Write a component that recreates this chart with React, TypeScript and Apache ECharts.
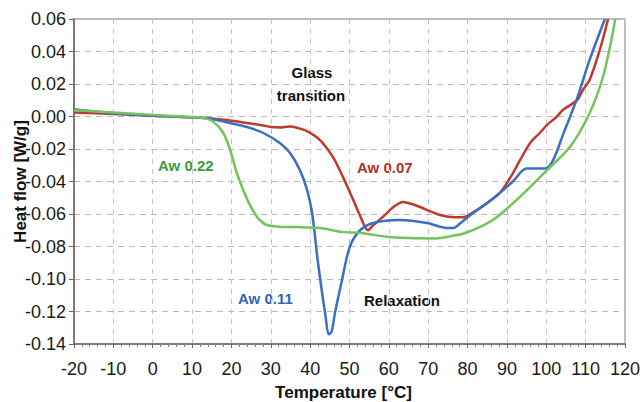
import React, { useEffect, useRef } from "react";
import * as echarts from "echarts";

// Aw 0.22 (green)
const greenT = [-20, -10, 0, 10, 13, 15.3, 17.9, 19.6, 21.4, 24, 26, 27.3, 29, 32, 36, 42.5, 48, 53, 59.5, 65, 72, 76, 79, 84, 87.5, 93.3, 100.2, 106, 111, 114.4, 116.7, 117.5];
const greenV = [0.004, 0.0025, 0.001, -0.0003, -0.001, -0.003, -0.01, -0.02, -0.035, -0.051, -0.06, -0.064, -0.0668, -0.0678, -0.068, -0.0686, -0.071, -0.0717, -0.074, -0.0748, -0.075, -0.0735, -0.072, -0.067, -0.0618, -0.0495, -0.033, -0.0188, 0.002, 0.0243, 0.049, 0.06];

// Aw 0.07 (red)
const redT = [-20, -10, 0, 10, 18, 24, 28, 30, 32.3, 34.9, 37, 39.2, 42.5, 45.8, 48.3, 50.9, 52.5, 54.7, 56, 58.5, 61, 63.6, 66, 67.9, 73, 77, 78.8, 81.4, 84, 88.2, 91, 93.3, 95.9, 98.4, 100.2, 102.7, 104.2, 107.8, 109.3, 111, 113.6, 115.7];
const redV = [0.0025, 0.0015, 0.0005, -0.0005, -0.002, -0.004, -0.0055, -0.0065, -0.0068, -0.0062, -0.0072, -0.009, -0.0145, -0.025, -0.037, -0.051, -0.06, -0.07, -0.067, -0.0618, -0.056, -0.0526, -0.054, -0.0557, -0.0606, -0.062, -0.062, -0.059, -0.055, -0.047, -0.037, -0.027, -0.0163, -0.01, -0.0052, 0.0, 0.004, 0.01, 0.0163, 0.0225, 0.041, 0.06];

// Aw 0.11 (blue)
const blueT = [-20, -10, 0, 10, 15, 19.6, 24, 28, 32.3, 34.9, 37.4, 39.2, 40.5, 42, 43.8, 44.8, 45.5, 46.3, 48.1, 50.1, 52.7, 56, 62.8, 69.7, 74.8, 76.5, 78, 81.4, 84.5, 88.2, 91.5, 95, 99.7, 101.7, 104.5, 107.8, 111, 114.9];
const blueV = [0.0045, 0.002, 0.0005, -0.0005, -0.0015, -0.004, -0.0065, -0.01, -0.0163, -0.0225, -0.033, -0.045, -0.0594, -0.09, -0.121, -0.134, -0.132, -0.121, -0.1006, -0.08, -0.07, -0.0655, -0.0637, -0.0655, -0.0686, -0.0686, -0.066, -0.0594, -0.054, -0.047, -0.04, -0.032, -0.032, -0.027, -0.0096, 0.011, 0.0348, 0.06];

const seriesNames = ["Aw 0.07", "Aw 0.11", "Aw 0.22"];
const seriesColors = ["#c0392b", "#3a6fc4", "#72c45a"];
const labelColors = ["#b3302a", "#2f66b8", "#3d9a3c"];

const pairs = (t: number[], v: number[]) => t.map((x, i) => [x, v[i]]);

export default function App() {
  const ref = useRef<HTMLDivElement>(null);
  useEffect(() => {
    if (!ref.current) return;
    const chart = echarts.init(ref.current, null, { renderer: "svg" });
    const tickFont = "'Liberation Sans Narrow', 'Liberation Sans', Arial, sans-serif";
    const boldFont = "'Liberation Sans', Arial, sans-serif";
    const annFont = "bold 15px 'Liberation Sans', Arial, sans-serif";
    const dataSets = [pairs(redT, redV), pairs(blueT, blueV), pairs(greenT, greenV)];
    const ann = (text: string, x: number, y: number, fill: string, align: string) => ({
      type: "text",
      x,
      y,
      style: { text, fill, font: annFont, textAlign: align, textVerticalAlign: "middle" },
    });
    chart.setOption({
      animation: false,
      backgroundColor: "#ffffff",
      grid: {
        left: 74,
        right: 15,
        top: 19,
        bottom: 58,
        outerBoundsMode: "none",
        containLabel: false,
        show: true,
        borderColor: "#a8a8a8",
        borderWidth: 1.5,
        backgroundColor: "transparent",
      },
      xAxis: {
        type: "value",
        min: -20,
        max: 120,
        interval: 10,
        name: "Temperature [°C]",
        nameLocation: "middle",
        nameGap: 40,
        nameMoveOverlap: false,
        nameTextStyle: {
          fontFamily: boldFont,
          fontWeight: "bold",
          fontSize: 17,
          color: "#111",
          padding: [0, 12, 0, 0],
        },
        axisLine: { show: true, onZero: false, lineStyle: { color: "#6f6461", width: 1.5 } },
        axisTick: { show: true, length: 4, lineStyle: { color: "#6f6461" } },
        minorTick: { show: true, splitNumber: 5, length: 3, lineStyle: { color: "#8a807e" } },
        axisLabel: { fontFamily: tickFont, fontSize: 18, color: "#1a1a1a", margin: 16 },
        splitLine: { show: true, lineStyle: { color: "#c4c4c4", type: [5, 5], width: 1 } },
      },
      yAxis: {
        type: "value",
        min: -0.14,
        max: 0.06,
        interval: 0.02,
        name: "Heat flow [W/g]",
        nameLocation: "middle",
        nameGap: 45,
        nameMoveOverlap: false,
        nameTextStyle: { fontFamily: boldFont, fontWeight: "bold", fontSize: 17, color: "#111" },
        axisLine: { show: true, onZero: false, lineStyle: { color: "#6f6461", width: 1.5 } },
        axisTick: { show: true, length: 5, lineStyle: { color: "#6f6461" } },
        axisLabel: {
          fontFamily: tickFont,
          fontSize: 18,
          color: "#1a1a1a",
          margin: 8,
          formatter: (v: number) => v.toFixed(2),
        },
        splitLine: { show: true, lineStyle: { color: "#b8b8b8", type: [6, 5], width: 1 } },
      },
      series: dataSets.map((d, i) => ({
        name: seriesNames[i],
        type: "line",
        data: d,
        showSymbol: false,
        smooth: 0.3,
        clip: true,
        lineStyle: { color: seriesColors[i], width: 2.5 },
        itemStyle: { color: seriesColors[i] },
      })),
      graphic: [
        ann("Glass", 312, 72, "#111", "center"),
        ann("transition", 311, 95, "#111", "center"),
        ann("Aw 0.22", 158, 165, labelColors[2], "left"),
        ann("Aw 0.07", 357, 167, labelColors[0], "left"),
        ann("Aw 0.11", 238, 298, labelColors[1], "left"),
        ann("Relaxation", 364, 300, "#111", "left"),
      ],
    });
    return () => chart.dispose();
  }, []);
  return <div ref={ref} style={{ width: 640, height: 402, position: "fixed", left: 0, top: 0 }} />;
}
